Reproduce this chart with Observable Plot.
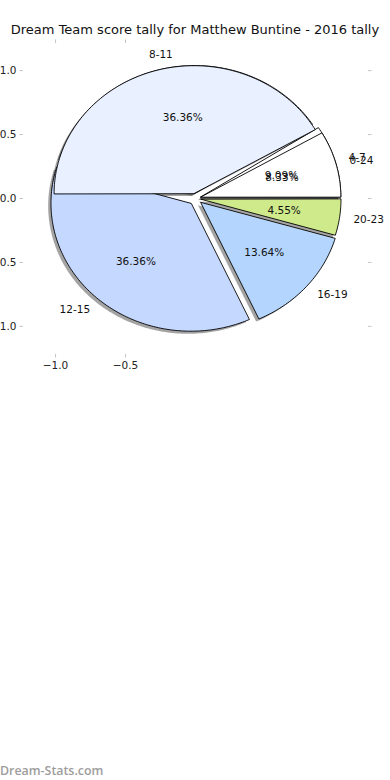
<!DOCTYPE html>
<html><head><meta charset="utf-8">
<script src="https://cdn.jsdelivr.net/npm/d3@7"></script>
<script src="https://cdn.jsdelivr.net/npm/@observablehq/plot@0.6"></script>
<style>
body{margin:0;background:#fff;width:390px;height:780px;position:relative;overflow:hidden;font-family:"DejaVu Sans",sans-serif;}
#chart{position:absolute;top:0;left:0;}
#title{position:absolute;top:22px;left:0;width:390px;text-align:center;font-size:13px;color:#111;white-space:nowrap;}
#wm{position:absolute;left:0;top:762px;font-family:"Open Sans",sans-serif;font-size:12.4px;color:#9d9d9d;font-weight:600;}
</style></head><body>
<div id="chart"></div>
<div id="title">Dream Team score tally for Matthew Buntine - 2016 tally</div>
<div id="wm">Dream-Stats.com</div>
<script>
// slices, counter-clockwise from 0°
const categories = ["4-7", "8-11", "12-15", "16-19", "20-23"];
const games = [2, 8, 8, 3, 1];
const explodeBy = [0.04, 0.04, 0.05, 0.05, 0.04];
const colors = ["#ffffff", "#e9f0ff", "#c5d8ff", "#b4d5fe", "#cfea8a"];
// second, overlapping wedge set drawn over the first (only its first label shows)
const overlapCategories = ["0-24", ""];
const overlapGames = [1, 5];
const overlapTotal = 12;
const overlapExplode = [0.04, 0.04];
const overlapColors = ["#ffffff", "#e9f0ff"];
const yTicks = [-1, -0.5, 0, 0.5, 1];
const xTicks = [-1, -0.5];

function buildSlices(cats, vals, total, expl) {
  let cum = 0;
  return cats.map((c, i) => {
    const a0 = 2 * Math.PI * cum / total;
    cum += vals[i];
    const a1 = 2 * Math.PI * cum / total;
    const mid = (a0 + a1) / 2;
    const cx = expl[i] * Math.cos(mid), cy = expl[i] * Math.sin(mid);
    const n = Math.max(2, Math.ceil((a1 - a0) / (Math.PI / 180)));
    const pts = [{x: cx, y: cy}];
    for (let k = 0; k <= n; k++) {
      const a = a0 + (a1 - a0) * k / n;
      pts.push({x: cx + Math.cos(a), y: cy + Math.sin(a)});
    }
    const lx = cx + 1.1 * Math.cos(mid), ly = cy + 1.1 * Math.sin(mid);
    const px = cx + 0.6 * Math.cos(mid), py = cy + 0.6 * Math.sin(mid);
    return {cat: c, pts, lx, ly, px, py, pct: (100 * vals[i] / total).toFixed(2) + "%", i};
  });
}

const total = d3.sum(games);
const slices = buildSlices(categories, games, total, explodeBy);
const overlap = buildSlices(overlapCategories, overlapGames, overlapTotal, overlapExplode);

const fmt = d => (d < 0 ? "\u2212" : "") + Math.abs(d).toFixed(1);
const tickGrey = "#c4c4c4";

const marks = [];
// shadows
slices.concat(overlap).forEach(s => {
  marks.push(Plot.line(s.pts, {x: d => d.x - 0.02, y: d => d.y - 0.02, curve: "linear-closed", fill: "#4a4a4a", fillOpacity: 0.5, stroke: "none"}));
});
slices.forEach(s => {
  marks.push(Plot.line(s.pts, {x: "x", y: "y", curve: "linear-closed", fill: colors[s.i], stroke: "#000", strokeWidth: 0.9}));
});
overlap.forEach(s => {
  marks.push(Plot.line(s.pts, {x: "x", y: "y", curve: "linear-closed", fill: overlapColors[s.i], stroke: "#000", strokeWidth: 0.9}));
});
const allLabels = slices.concat(overlap.filter(s => s.cat !== ""));
marks.push(Plot.text(allLabels.filter(s => s.lx >= 0), {x: "lx", y: "ly", text: "cat", textAnchor: "start", fontSize: 10.5, fill: "#111"}));
marks.push(Plot.text(allLabels.filter(s => s.lx < 0), {x: "lx", y: "ly", text: "cat", textAnchor: "end", fontSize: 10.5, fill: "#111"}));
marks.push(Plot.text(allLabels, {x: "px", y: "py", text: "pct", fontSize: 10.5, fill: "#111"}));
// axes
marks.push(Plot.axisY(yTicks, {anchor: "left", tickSize: 3.5, tickPadding: 3.5, tickFormat: fmt, stroke: tickGrey, fill: "#222", fontSize: 10.5, label: null}));
marks.push(Plot.axisY(yTicks, {anchor: "right", tickSize: 3.5, tickFormat: () => "", stroke: tickGrey, label: null}));
marks.push(Plot.axisX(xTicks, {anchor: "top", tickSize: 3.5, tickFormat: () => "", stroke: tickGrey, label: null}));
marks.push(Plot.axisX(xTicks, {anchor: "bottom", tickSize: 3.5, tickPadding: 3.5, tickFormat: fmt, stroke: tickGrey, fill: "#222", fontSize: 10.5, label: null}));

const chart = Plot.plot({
  width: 390, height: 780,
  marginLeft: 23, marginRight: 23, marginTop: 42, marginBottom: 426,
  x: {domain: [-1.229, 1.229], axis: null},
  y: {domain: [-1.22, 1.22], axis: null},
  style: {fontFamily: "DejaVu Sans", fontSize: "10.5px", background: "transparent", overflow: "visible"},
  marks
});
document.getElementById("chart").appendChild(chart);
</script>
</body></html>
